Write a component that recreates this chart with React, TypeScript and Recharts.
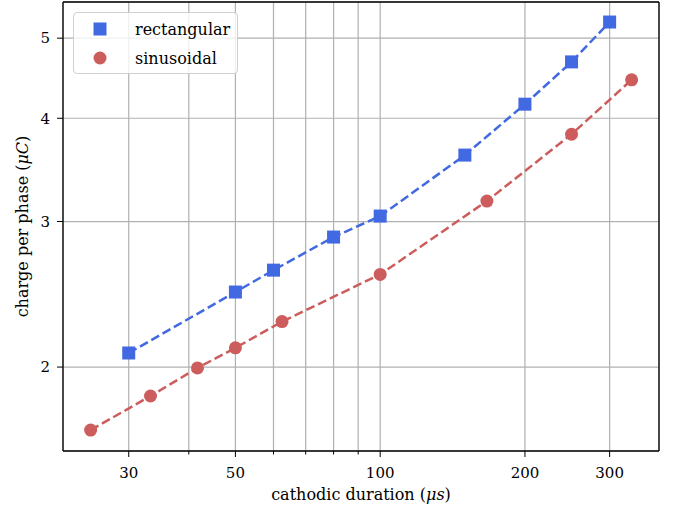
import React from 'react';
import { ComposedChart, Line, XAxis, YAxis, CartesianGrid, ReferenceLine } from 'recharts';

const rectX = [30, 50, 60, 80, 100, 150, 200, 250, 300];
const rectY = [2.08, 2.465, 2.62, 2.873, 3.046, 3.61, 4.16, 4.68, 5.23];
const sinX = [25, 33.3, 41.7, 50, 62.5, 100, 166.7, 250, 333.3];
const sinY = [1.678, 1.845, 1.995, 2.11, 2.27, 2.589, 3.176, 3.826, 4.452];
const xTicks = [30, 40, 50, 60, 70, 80, 90, 100, 200, 300];
const xLabeled = [30, 50, 100, 200, 300];
const yTicks = [2, 3, 4, 5];
const xDomain = [21.9, 380];
const yDomain = [1.583, 5.53];

const rectData = rectX.map((x, i) => ({ x, y: rectY[i] }));
const sinData = sinX.map((x, i) => ({ x, y: sinY[i] }));

const BLUE = '#4169E1';
const RED = '#CD5C5C';
const FONT = '"DejaVu Serif", serif';

const XTick = (props: any) => {
  const { x, y, payload } = props;
  const major = xLabeled.includes(payload.value);
  return (
    <g>
      <line x1={x} x2={x} y1={y} y2={y + (major ? 6 : 3.5)} stroke="#000" strokeWidth={1} />
      {major && (
        <text x={x} y={y + 27} textAnchor="middle" fontSize={15} fontFamily={FONT} fill="#000">
          {payload.value}
        </text>
      )}
    </g>
  );
};

const SquareDot = (props: any) => {
  const { cx, cy, index } = props;
  return <rect key={'s' + index} x={cx - 6.5} y={cy - 6.5} width={13} height={13} fill={BLUE} />;
};

const CircleDot = (props: any) => {
  const { cx, cy, index } = props;
  return <circle key={'c' + index} cx={cx} cy={cy} r={6.5} fill={RED} />;
};

const XLabel = (props: any) => {
  const { viewBox } = props;
  const cx = viewBox.x + viewBox.width / 2;
  return (
    <text x={cx} y={500} textAnchor="middle" fontSize={16} fontFamily={FONT} fill="#000">
      cathodic duration (<tspan fontStyle="italic">μs</tspan>)
    </text>
  );
};

const YLabel = (props: any) => {
  const { viewBox } = props;
  const cy = viewBox.y + viewBox.height / 2;
  return (
    <text
      x={22}
      y={cy}
      transform={`rotate(-90, 22, ${cy})`}
      textAnchor="middle"
      dominantBaseline="central"
      fontSize={16}
      fontFamily={FONT}
      fill="#000"
    >
      charge per phase (<tspan fontStyle="italic">μC</tspan>)
    </text>
  );
};

const LegendBox = () => (
  <div
    style={{
      position: 'absolute',
      left: 73,
      top: 12,
      width: 163,
      height: 60,
      border: '1px solid #d0d0d0',
      borderRadius: 4,
      background: 'rgba(255,255,255,0.8)',
      fontFamily: FONT,
      fontSize: 16,
      color: '#000',
    }}
  >
    <svg width={163} height={60} style={{ position: 'absolute', left: 0, top: 0 }}>
      <rect x={26 - 6.5} y={16 - 6.5} width={13} height={13} fill={BLUE} />
      <circle cx={26} cy={45} r={6.5} fill={RED} />
      <text x={61} y={21.5} fontSize={16} fontFamily={FONT} fill="#000">rectangular</text>
      <text x={61} y={50.5} fontSize={16} fontFamily={FONT} fill="#000">sinusoidal</text>
    </svg>
  </div>
);

export default function App() {
  return (
    <div style={{ position: 'absolute', left: 0, top: 0, width: 678, height: 512, background: '#fff' }}>
      <ComposedChart width={678} height={512} margin={{ top: 2, right: 19, bottom: 0, left: 0 }}>
        <CartesianGrid stroke="#b0b0b0" strokeWidth={1.2} />
        <XAxis
          dataKey="x"
          type="number"
          scale="log"
          domain={xDomain}
          allowDataOverflow
          ticks={xTicks}
          interval={0}
          height={61}
          tickSize={0}
          tickMargin={0}
          tickLine={false}
          tick={<XTick />}
          axisLine={{ stroke: '#000', strokeWidth: 1.3 }}
          label={<XLabel />}
        />
        <YAxis
          dataKey="y"
          type="number"
          scale="log"
          domain={yDomain}
          allowDataOverflow
          ticks={yTicks}
          interval={0}
          width={63}
          tickSize={6}
          tickMargin={7}
          tickLine={{ stroke: '#000' }}
          tick={{ fontSize: 15, fontFamily: FONT, fill: '#000' }}
          axisLine={{ stroke: '#000', strokeWidth: 1.3 }}
          label={<YLabel />}
        />
        <ReferenceLine y={yDomain[1]} stroke="#000" strokeWidth={1.3} />
        <ReferenceLine x={xDomain[1]} stroke="#000" strokeWidth={1.3} />
        <Line
          data={rectData}
          dataKey="y"
          stroke={BLUE}
          strokeWidth={2.5}
          strokeDasharray="9 4"
          dot={<SquareDot />}
          activeDot={false}
          isAnimationActive={false}
        />
        <Line
          data={sinData}
          dataKey="y"
          stroke={RED}
          strokeWidth={2.5}
          strokeDasharray="9 4"
          dot={<CircleDot />}
          activeDot={false}
          isAnimationActive={false}
        />
      </ComposedChart>
      <LegendBox />
    </div>
  );
}
